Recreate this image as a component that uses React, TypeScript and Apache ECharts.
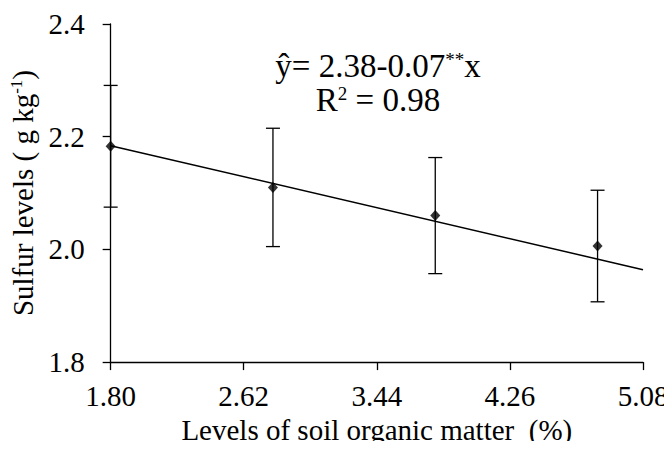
import React, { useEffect, useRef } from "react";
import * as echarts from "echarts";

const xTicks = [1.8, 2.62, 3.44, 4.26, 5.08];
const yTicks = [1.8, 2.0, 2.2, 2.4];
const organicMatter = [1.8, 2.8, 3.8, 4.8];
const sulfurMeans = [2.183, 2.11, 2.06, 2.006];
const sulfurErrors = [0.108, 0.105, 0.103, 0.099];
const trendX = [1.8, 5.08];
const trendY = [2.184, 1.964];

const FONT = "Liberation Serif";

export default function App() {
  const ref = useRef<HTMLDivElement>(null);
  useEffect(() => {
    if (!ref.current) return;
    const chart = echarts.init(ref.current, null, { renderer: "svg" });
    const pts = organicMatter.map((x, i) => [x, sulfurMeans[i]]);
    const errs = organicMatter.map((x, i) => [x, sulfurMeans[i] - sulfurErrors[i], sulfurMeans[i] + sulfurErrors[i]]);
    const trend = trendX.map((x, i) => [x, trendY[i]]);
    const sup = { fontSize: 17, fontFamily: FONT, color: "#000", padding: [0, 0, 13, 0] };
    const eqSup = { fontSize: 19, fontFamily: FONT, color: "#000", padding: [0, 0, 13, 0] };
    chart.setOption({
      animation: false,
      backgroundColor: "#fff",
      textStyle: { fontFamily: FONT },
      grid: { left: 108, right: 29, top: 24, bottom: 77 },
      xAxis: {
        type: "value",
        min: 1.8,
        max: 5.08,
        name: "Levels of soil organic matter  (%)",
        nameLocation: "middle",
        nameGap: 48,
        nameTextStyle: { fontSize: 29, fontFamily: FONT, color: "#000" },
        axisLine: { show: true, onZero: false, lineStyle: { color: "#000", width: 1.3 } },
        axisTick: { show: true, inside: false, length: 8, customValues: xTicks, lineStyle: { color: "#000", width: 1.3 } },
        axisLabel: {
          customValues: xTicks,
          margin: 19,
          fontSize: 29,
          fontFamily: FONT,
          color: "#000",
          formatter: (v: number) => v.toFixed(2),
        },
        splitLine: { show: false },
      },
      yAxis: {
        type: "value",
        min: 1.8,
        max: 2.4,
        name: "Sulfur levels ( g kg{sup|-1})",
        nameLocation: "middle",
        nameGap: 68,
        nameRotate: 90,
        nameTextStyle: { fontSize: 29, fontFamily: FONT, color: "#000", rich: { sup } },
        axisLine: { show: true, onZero: false, lineStyle: { color: "#000", width: 1.3 } },
        axisTick: { show: true, inside: false, length: 8, customValues: yTicks, lineStyle: { color: "#000", width: 1.3 } },
        axisLabel: {
          customValues: yTicks,
          margin: 26,
          fontSize: 29,
          fontFamily: FONT,
          color: "#000",
          formatter: (v: number) => v.toFixed(1),
        },
        splitLine: { show: false },
      },
      graphic: [
        {
          type: "text",
          x: 378,
          y: 49,
          style: {
            text: "ŷ= 2.38-0.07{eqSup|**}x",
            fontSize: 33,
            fontFamily: FONT,
            fill: "#000",
            align: "center",
            lineHeight: 33,
            rich: { eqSup },
          },
        },
        {
          type: "text",
          x: 378,
          y: 83,
          style: {
            text: "R{eqSup|2} = 0.98",
            fontSize: 33,
            fontFamily: FONT,
            fill: "#000",
            align: "center",
            lineHeight: 33,
            rich: { eqSup },
          },
        },
      ],
      series: [
        {
          type: "line",
          data: trend,
          symbol: "none",
          lineStyle: { color: "#000", width: 1.5 },
          z: 2,
        },
        {
          type: "custom",
          data: errs,
          renderItem: (params: any, api: any) => {
            const x = api.value(0);
            const lo = api.coord([x, api.value(1)]);
            const hi = api.coord([x, api.value(2)]);
            const hw = 7;
            const style = { stroke: "#000", lineWidth: 1.3 };
            return {
              type: "group",
              children: [
                { type: "line", shape: { x1: lo[0], y1: lo[1], x2: hi[0], y2: hi[1] }, style },
                { type: "line", shape: { x1: lo[0] - hw, y1: lo[1], x2: lo[0] + hw, y2: lo[1] }, style },
                { type: "line", shape: { x1: hi[0] - hw, y1: hi[1], x2: hi[0] + hw, y2: hi[1] }, style },
              ],
            };
          },
          z: 3,
        },
        {
          type: "scatter",
          data: pts,
          symbol: "diamond",
          symbolSize: [10, 11],
          itemStyle: { color: "#000" },
          z: 4,
        },
      ],
    });
    return () => chart.dispose();
  }, []);
  return <div ref={ref} style={{ width: 672, height: 449, margin: -8 }} />;
}
